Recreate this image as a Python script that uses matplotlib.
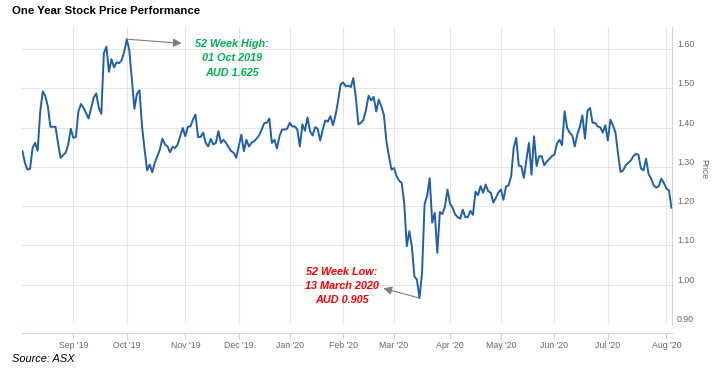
import matplotlib.pyplot as plt
import numpy as np
import pandas as pd

plt.rcParams['font.family'] = ['Liberation Sans', 'DejaVu Sans']

title = "One Year Stock Price Performance"
source = "Source: ASX"
first_session = "2019-08-05"
asx_holidays = ["2019-12-25", "2019-12-26", "2020-01-01", "2020-01-27",
                "2020-04-10", "2020-04-13", "2020-06-08"]

# daily close, AUD (one value per ASX trading day)
close = [
    1.340, 1.310, 1.293, 1.295, 1.348, 1.361, 1.341, 1.441, 1.492, 1.480,
    1.454, 1.402, 1.402, 1.402, 1.360, 1.323, 1.330, 1.336, 1.357, 1.397,
    1.374, 1.376, 1.441, 1.460, 1.450, 1.437, 1.423, 1.450, 1.476, 1.487,
    1.450, 1.435, 1.589, 1.606, 1.542, 1.574, 1.553, 1.566, 1.564, 1.572,
    1.593, 1.625, 1.597, 1.521, 1.448, 1.486, 1.495, 1.403, 1.344, 1.291,
    1.306, 1.286, 1.310, 1.327, 1.344, 1.372, 1.357, 1.352, 1.337, 1.351,
    1.348, 1.357, 1.378, 1.399, 1.378, 1.402, 1.403, 1.420, 1.433, 1.376,
    1.376, 1.387, 1.361, 1.352, 1.371, 1.357, 1.361, 1.391, 1.361, 1.369,
    1.361, 1.350, 1.340, 1.336, 1.323, 1.352, 1.382, 1.340, 1.369, 1.352,
    1.361, 1.365, 1.372, 1.380, 1.395, 1.411, 1.412, 1.423, 1.361, 1.369,
    1.347, 1.378, 1.395, 1.395, 1.397, 1.412, 1.403, 1.403, 1.395, 1.352,
    1.408, 1.392, 1.426, 1.391, 1.380, 1.401, 1.397, 1.367, 1.395, 1.418,
    1.415, 1.429, 1.406, 1.431, 1.467, 1.510, 1.515, 1.505, 1.507, 1.503,
    1.526, 1.476, 1.408, 1.412, 1.420, 1.446, 1.481, 1.469, 1.478, 1.441,
    1.471, 1.454, 1.433, 1.365, 1.327, 1.293, 1.297, 1.276, 1.265, 1.259,
    1.208, 1.098, 1.136, 1.098, 1.021, 1.013, 0.966, 1.030, 1.205, 1.226,
    1.271, 1.158, 1.183, 1.081, 1.185, 1.180, 1.199, 1.242, 1.206, 1.196,
    1.179, 1.172, 1.168, 1.191, 1.172, 1.172, 1.188, 1.178, 1.237, 1.228,
    1.251, 1.234, 1.255, 1.238, 1.234, 1.209, 1.221, 1.235, 1.242, 1.216,
    1.250, 1.253, 1.276, 1.348, 1.374, 1.303, 1.302, 1.272, 1.318, 1.361,
    1.280, 1.378, 1.302, 1.327, 1.327, 1.304, 1.313, 1.320, 1.327, 1.331,
    1.359, 1.369, 1.355, 1.441, 1.399, 1.387, 1.380, 1.352, 1.382, 1.402,
    1.431, 1.372, 1.443, 1.450, 1.412, 1.412, 1.403, 1.401, 1.387, 1.406,
    1.367, 1.420, 1.406, 1.387, 1.333, 1.287, 1.291, 1.304, 1.310, 1.316,
    1.327, 1.333, 1.331, 1.296, 1.291, 1.321, 1.282, 1.270, 1.253, 1.247,
    1.251, 1.270, 1.259, 1.245, 1.240, 1.196,
]
y_ticks = [0.90, 1.00, 1.10, 1.20, 1.30, 1.40, 1.50, 1.60]
high_note = "52 Week High:\n01 Oct 2019\nAUD 1.625"
low_note = "52 Week Low:\n13 March 2020\nAUD 0.905"

# ordinal (trading day) x axis, like the stock widget
dates = pd.bdate_range(first_session, periods=len(close), freq="C", holidays=asx_holidays)
session = np.arange(len(close))
months = np.asarray(dates.month)
month_start = np.flatnonzero(months[1:] != months[:-1]) + 1
month_labels = [d.strftime("%b '%y") for d in dates[month_start]]

fig = plt.figure(figsize=(7.16, 3.79), dpi=100)
ax = fig.add_axes([22 / 716, 55 / 379, 650 / 716, 297 / 379])

ax.plot(session, close, color="#1f5fae", lw=1.4, solid_joinstyle="round")
ax.set_xlim(-0.16, 255.2)
ax.set_ylim(0.90, 1.656)

ax.set_xticks(month_start)
ax.set_xticklabels(month_labels)
ax.set_yticks(y_ticks)
ax.set_yticklabels([f"{v:.2f}" for v in y_ticks])
ax.grid(color="#e6e6e6", lw=0.75)
ax.set_axisbelow(True)

for s in ["top", "left"]:
    ax.spines[s].set_visible(False)
ax.spines["right"].set_color("#ccd6eb")
ax.spines["bottom"].set_color("#ccd6eb")
ax.spines["bottom"].set_position(("outward", 6.5))

ax.yaxis.tick_right()
ax.tick_params(axis="x", colors="#ccd6eb", length=4.5, width=0.75,
               labelsize=6.3, labelcolor="#666666", pad=1.5)
ax.tick_params(axis="y", length=0, pad=3.6, labelsize=6.3, labelcolor="#666666")
for lbl in ax.get_yticklabels():
    lbl.set_va("bottom")

ax.text(1.049, 0.52, "Price", transform=ax.transAxes, rotation=270,
        ha="center", va="center", fontsize=6.3, color="#666666")

# 52 week high / low call-outs
peak_i = int(np.argmax(close))
low_i = int(np.argmin(close))
arrow = dict(arrowstyle="<|-,head_length=0.5,head_width=0.25", color="#7f7f7f",
             lw=0.8, mutation_scale=10, shrinkA=0, shrinkB=0)

ax.annotate("", xy=(peak_i, close[peak_i]), xytext=(39.5, -3),
            textcoords="offset points", arrowprops=arrow)
ax.annotate(high_note, xy=(peak_i, close[peak_i]), xytext=(75.5, -13.75),
            textcoords="offset points", ha="center", va="center",
            color="#00b050", fontsize=7.8, fontweight="bold", style="italic",
            linespacing=1.55)

ax.annotate("", xy=(low_i, close[low_i]), xytext=(-26, 7),
            textcoords="offset points", arrowprops=arrow)
ax.annotate(low_note, xy=(low_i, close[low_i]), xytext=(-56, 8.7),
            textcoords="offset points", ha="center", va="center",
            color="#ff0000", fontsize=7.8, fontweight="bold", style="italic",
            linespacing=1.55)

fig.text(12 / 716, 1 - 11 / 379, title, fontsize=8.2, fontweight="bold",
         ha="left", va="center")
fig.text(12 / 716, 1 - 359 / 379, source, fontsize=7.9, style="italic",
         ha="left", va="center")

fig.savefig("out.png", dpi=100)
